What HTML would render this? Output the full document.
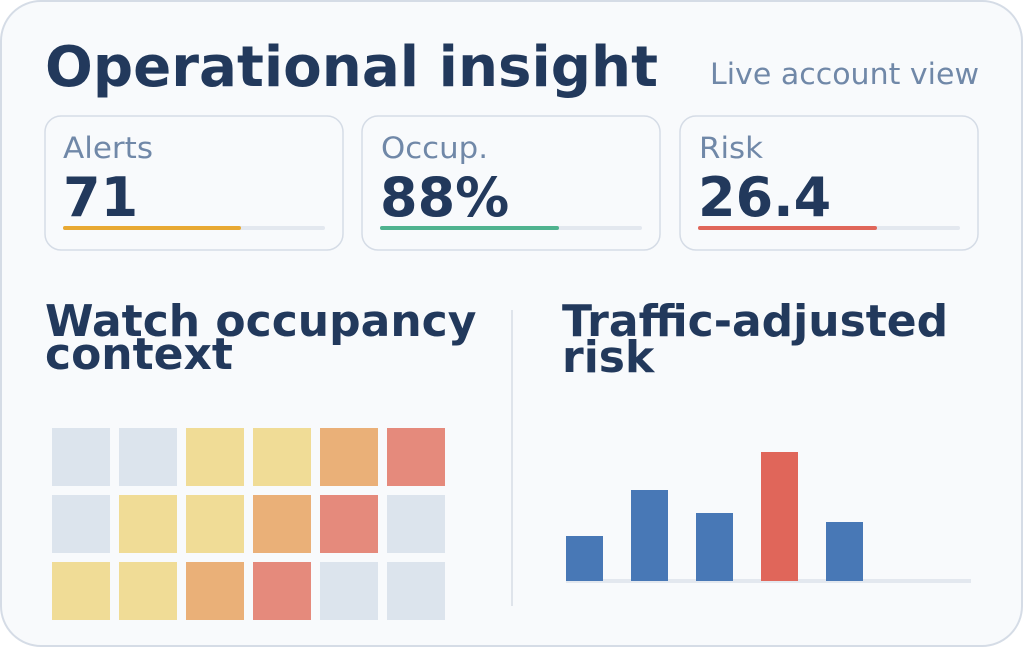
<!DOCTYPE html>
<html><head><meta charset="utf-8"><style>
html,body{margin:0;padding:0;background:#fff;}
svg{display:block;font-family:"DejaVu Sans","Liberation Sans",sans-serif;}
</style></head><body>
<svg width="1024" height="648" viewBox="0 0 1024 648" xmlns="http://www.w3.org/2000/svg">
<rect x="1" y="1" width="1021" height="645" rx="40" fill="#f8fafc" stroke="#d5dce6" stroke-width="2"/>
<text x="45" y="86" font-size="56" font-weight="bold" fill="#22395c" textLength="613" lengthAdjust="spacingAndGlyphs">Operational insight</text>
<text x="710" y="84" font-size="29" fill="#7088a8" textLength="269" lengthAdjust="spacingAndGlyphs">Live account view</text>
<g>
<rect x="45" y="116" width="298" height="134" rx="16" fill="#f8fafc" stroke="#d5dce6" stroke-width="1.5"/>
<text x="63" y="158" font-size="29" fill="#7088a8" textLength="90" lengthAdjust="spacingAndGlyphs">Alerts</text>
<text x="63" y="216" font-size="54" font-weight="bold" fill="#22395c">71</text>
<rect x="63" y="226" width="262" height="4" rx="2" fill="#e3e8ef"/>
<rect x="63" y="226" width="178" height="4" rx="2" fill="#e8a933"/>
<rect x="362" y="116" width="298" height="134" rx="16" fill="#f8fafc" stroke="#d5dce6" stroke-width="1.5"/>
<text x="381" y="158" font-size="29" fill="#7088a8" textLength="107" lengthAdjust="spacingAndGlyphs">Occup.</text>
<text x="380" y="216" font-size="54" font-weight="bold" fill="#22395c">88%</text>
<rect x="380" y="226" width="262" height="4" rx="2" fill="#e3e8ef"/>
<rect x="380" y="226" width="179" height="4" rx="2" fill="#4fb38f"/>
<rect x="680" y="116" width="298" height="134" rx="16" fill="#f8fafc" stroke="#d5dce6" stroke-width="1.5"/>
<text x="699" y="158" font-size="29" fill="#7088a8" textLength="64" lengthAdjust="spacingAndGlyphs">Risk</text>
<text x="698" y="216" font-size="54" font-weight="bold" fill="#22395c">26.4</text>
<rect x="698" y="226" width="262" height="4" rx="2" fill="#e3e8ef"/>
<rect x="698" y="226" width="179" height="4" rx="2" fill="#e0665a"/>
</g>
<text font-size="44" font-weight="bold" fill="#22395c"><tspan x="45" y="336">Watch occupancy</tspan><tspan x="45" y="369">context</tspan></text>
<text font-size="44" font-weight="bold" fill="#22395c"><tspan x="562" y="336">Traffic-adjusted</tspan><tspan x="562" y="372">risk</tspan></text>
<rect x="511" y="310" width="2" height="296" fill="#dfe4eb"/>
<g>
<rect x="52" y="428" width="58" height="58" fill="#dce4ed"/>
<rect x="119" y="428" width="58" height="58" fill="#dce4ed"/>
<rect x="186" y="428" width="58" height="58" fill="#f0dc96"/>
<rect x="253" y="428" width="58" height="58" fill="#f0dc96"/>
<rect x="320" y="428" width="58" height="58" fill="#eab078"/>
<rect x="387" y="428" width="58" height="58" fill="#e58a7c"/>
<rect x="52" y="495" width="58" height="58" fill="#dce4ed"/>
<rect x="119" y="495" width="58" height="58" fill="#f0dc96"/>
<rect x="186" y="495" width="58" height="58" fill="#f0dc96"/>
<rect x="253" y="495" width="58" height="58" fill="#eab078"/>
<rect x="320" y="495" width="58" height="58" fill="#e58a7c"/>
<rect x="387" y="495" width="58" height="58" fill="#dce4ed"/>
<rect x="52" y="562" width="58" height="58" fill="#f0dc96"/>
<rect x="119" y="562" width="58" height="58" fill="#f0dc96"/>
<rect x="186" y="562" width="58" height="58" fill="#eab078"/>
<rect x="253" y="562" width="58" height="58" fill="#e58a7c"/>
<rect x="320" y="562" width="58" height="58" fill="#dce4ed"/>
<rect x="387" y="562" width="58" height="58" fill="#dce4ed"/>
</g>
<rect x="566" y="579" width="405" height="4" fill="#e3e8ef"/>
<rect x="566" y="536" width="37" height="45" fill="#4878b6"/>
<rect x="631" y="490" width="37" height="91" fill="#4878b6"/>
<rect x="696" y="513" width="37" height="68" fill="#4878b6"/>
<rect x="761" y="452" width="37" height="129" fill="#e0665a"/>
<rect x="826" y="522" width="37" height="59" fill="#4878b6"/>
</svg>
</body></html>
